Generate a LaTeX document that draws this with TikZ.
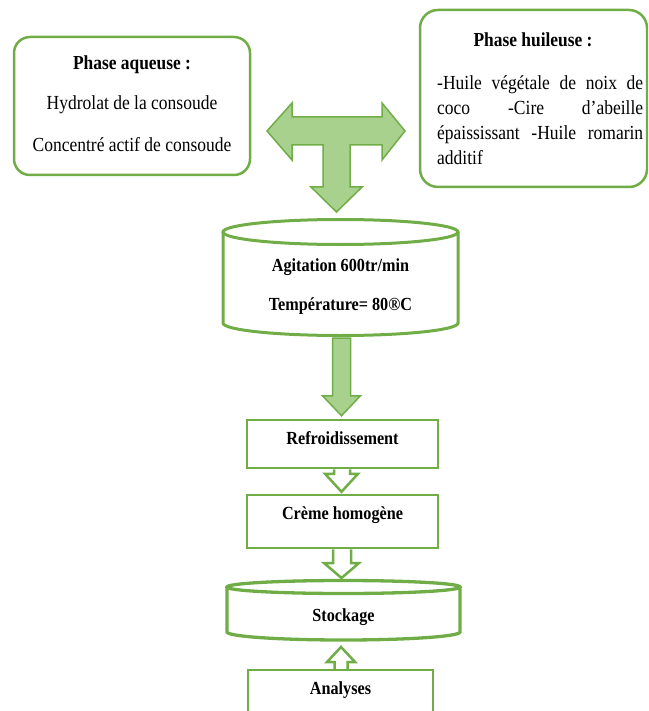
\documentclass[tikz,border=0pt]{standalone}
\usepackage{fontspec}
\usepackage{graphicx}
\setmainfont{Liberation Serif}
\usetikzlibrary{calc}
\definecolor{grn}{HTML}{70AD47}
\definecolor{grnfill}{HTML}{A9D18E}
\newcommand{\vs}[1]{\scalebox{1}[1.14]{#1}}
\begin{document}
\begin{tikzpicture}[x=1pt,y=-1pt,
  box/.style={draw=grn, line width=2.5pt, rounded corners=16pt, inner sep=0pt},
  rbox/.style={draw=grn, line width=2.5pt, inner sep=0pt},
  cyl/.style={draw=grn, line width=3pt},
  txt/.style={font=\fontsize{17.5}{21}\selectfont, inner sep=0pt, text height=13.5pt, text depth=4.5pt},
  btxt/.style={font=\fontsize{17.4}{21}\selectfont\bfseries, inner sep=0pt, text height=13.5pt, text depth=4.5pt},
  ctxt/.style={font=\fontsize{16.2}{20}\selectfont\bfseries, inner sep=0pt, text height=13.5pt, text depth=4.5pt},
  farrow/.style={draw=grn, line width=1.5pt, fill=grnfill, line join=miter},
  harrow/.style={draw=grn, line width=2.5pt, fill=white, line join=miter},
]
\useasboundingbox (0,0) rectangle (648,711);
\clip (0,0) rectangle (648,711);

% Phase aqueuse
\node[box, minimum width=236pt, minimum height=138pt] (aq) at (132,106) {};
\node[btxt] (aqt) at (132,65) {\vs{Phase aqueuse :}};
\node[txt] (aq1) at (132,105) {\vs{Hydrolat de la consoude}};
\node[txt] (aq2) at (132,147) {\vs{Concentré actif de consoude}};

% Phase huileuse
\node[box, rounded corners=18pt, minimum width=227pt, minimum height=177pt] (hu) at (533.5,98.5) {};
\node[btxt] (hut) at (533,42) {\vs{Phase huileuse :}};
\node[txt, anchor=west] (hu1) at (437,85) {\vs{\makebox[206pt][s]{-Huile végétale de noix de}}};
\node[txt, anchor=west] (hu2) at (437,110) {\vs{\makebox[206pt][s]{coco -Cire d’abeille}}};
\node[txt, anchor=west] (hu3) at (437,135) {\vs{\makebox[206pt][s]{épaississant -Huile romarin}}};
\node[txt, anchor=west] (hu4) at (437,160) {\vs{additif}};

% T arrow
\draw[farrow] (267,131) -- (292,103) -- (292,117) -- (382,117) -- (382,103) -- (405,131)
  -- (382,160) -- (382,145) -- (350,145) -- (350,187) -- (362,187) -- (336.5,212)
  -- (311,187) -- (323,187) -- (323,145) -- (292,145) -- (292,160) -- cycle;

% Mixing cylinder
\coordinate (mixtop) at (340.5,232);
\coordinate (mixbot) at (340.5,323);
\draw[cyl] (mixtop) ellipse [x radius=117.5pt, y radius=12.5pt];
\draw[cyl] ($(mixtop)+(-117.5,0)$) -- ($(mixbot)+(-117.5,0)$)
  arc[start angle=180, end angle=360, x radius=117.5pt, y radius=12.5pt]
  -- ($(mixtop)+(117.5,0)$);
\node[ctxt] (mix1) at (340.5,267) {\vs{Agitation 600tr/min}};
\node[ctxt] (mix2) at (340.5,306) {\vs{Température= 80®C}};

% Boxes
\node[rbox, minimum width=191pt, minimum height=48pt] (refr) at (342.5,444) {};
\node[ctxt] (refrt) at (342.5,440) {\vs{Refroidissement}};
\node[rbox, minimum width=191pt, minimum height=53pt] (creme) at (342.5,521.5) {};
\node[ctxt] (cremet) at (342.5,515) {\vs{Crème homogène}};

% Filled arrow to Refroidissement
\draw[farrow] let \p1=(refr.north) in
  (\x1-10pt,-338pt) -- (\x1+8pt,-338pt) -- (\x1+8pt,\y1+23pt) -- (\x1+18pt,\y1+23pt)
  -- (\x1-1pt,\y1+3pt) -- (\x1-20pt,\y1+23pt) -- (\x1-10pt,\y1+23pt) -- cycle;

% Stockage cylinder
\coordinate (stktop) at (343.5,587);
\coordinate (stkbot) at (343.5,632);
\draw[cyl, line width=3.3pt] (stktop) ellipse [x radius=116.5pt, y radius=6.5pt];
\draw[cyl, line width=3.3pt] ($(stktop)+(-116.5,0)$) -- ($(stkbot)+(-116.5,0)$)
  arc[start angle=180, end angle=360, x radius=116.5pt, y radius=8pt]
  -- ($(stktop)+(116.5,0)$);
\node[ctxt] (stkt) at (343.5,617) {\vs{Stockage}};
\coordinate (stkN) at (343.5,580);
\coordinate (stkS) at (343.5,640);

% Analyses
\node[rbox, minimum width=185pt, minimum height=60pt] (ana) at (340.5,700) {};
\node[ctxt] (anat) at (340.5,690) {\vs{Analyses}};

% Hollow arrows
\draw[harrow] let \p1=(refr.south), \p2=(creme.north) in
  (\x1-8.5pt,\y1) -- (\x1-8.5pt,\y2+20pt) -- (\x1-17.5pt,\y2+20pt) -- (\x1-1pt,\y2+2pt)
  -- (\x1+15.5pt,\y2+20pt) -- (\x1+7.5pt,\y2+20pt) -- (\x1+7.5pt,\y1);
\draw[harrow] let \p1=(creme.south), \p2=(stkN) in
  (\x1-9.5pt,\y1) -- (\x1-9.5pt,\y2+17pt) -- (\x1-18.5pt,\y2+17pt) -- (\x1-1pt,\y2+2pt)
  -- (\x1+16.5pt,\y2+17pt) -- (\x1+8.5pt,\y2+17pt) -- (\x1+8.5pt,\y1);
\draw[harrow] let \p1=(ana.north), \p2=(stkS) in
  (\x1-6pt,\y1) -- (\x1-6pt,\y2-22pt) -- (\x1-13.5pt,\y2-22pt) -- (\x1+0.5pt,\y2-7pt)
  -- (\x1+14.5pt,\y2-22pt) -- (\x1+7pt,\y2-22pt) -- (\x1+7pt,\y1);
\end{tikzpicture}
\end{document}
